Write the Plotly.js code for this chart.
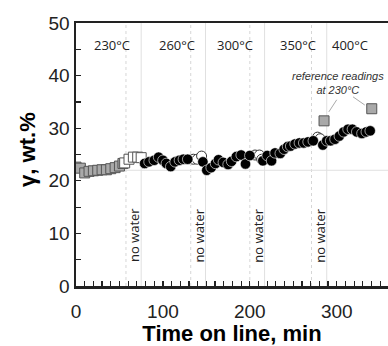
<!DOCTYPE html>
<html>
<head>
<meta charset="utf-8">
<script src="https://cdn.plot.ly/plotly-3.0.1.min.js"></script>
<style>html,body{margin:0;padding:0;background:#fff;}#chart{width:388px;height:346px;}</style>
</head>
<body>
<div id="chart"></div>
<script>
// Grey squares: 230°C with water
const greySqX = [0, 5, 10, 15, 20, 25, 30, 35, 40, 45, 50, 54];
const greySqY = [22.6, 22.4, 21.5, 21.8, 21.9, 22.0, 22.1, 22.1, 22.3, 22.5, 22.8, 23.3];
// Open squares: 230°C no water
const openSqX = [56, 61, 66, 71, 75];
const openSqY = [23.4, 24.1, 24.5, 24.5, 24.4];
// Black circles: with water
const blackX = [79, 84, 90, 95, 100, 104, 109, 114, 119, 123.5, 128.5, 146, 150.5, 155.5, 160.5, 164, 169.5, 175, 179, 184.5, 190, 195, 200, 215, 220, 225, 229, 235, 239.5, 243.5, 247, 252, 257, 262, 267, 273, 284, 288.5, 293, 298, 303, 308, 313, 318, 323, 329, 334, 338.5];
const blackY = [23.3, 23.6, 23.9, 24.5, 23.9, 23.3, 22.7, 23.6, 23.9, 24.1, 24.1, 23.6, 22.0, 22.5, 23.3, 24.0, 23.5, 23.1, 23.7, 24.6, 24.9, 23.2, 24.8, 23.8, 24.8, 23.8, 25.3, 25.2, 26.0, 26.5, 26.6, 27.0, 27.2, 27.2, 27.4, 27.6, 26.8, 27.6, 27.6, 27.9, 28.5, 29.3, 29.8, 29.8, 29.3, 29.0, 29.3, 29.5];
// Open circles: no water
const openCircX = [135, 139.5, 144.5, 206, 211, 213.7, 278, 281];
const openCircY = [24.1, 24.1, 24.7, 24.9, 24.9, 24.1, 28.3, 28.0];
// Reference readings at 230°C
const refX = [285.4, 340.3];
const refY = [31.4, 33.7];
// Temperature labels
const tempLabels = ['230°C', '260°C', '300°C', '350°C', '400°C'];
const tempX = [41.4, 116, 183, 255, 315];
const tempY = 45.8;
// No-water periods
const noWaterStart = [57.5, 132, 200, 271];
const noWaterEnd = [75, 149, 217, 288.5];
const noWaterLabel = 'no water';
const baselineY = 22;
const refNote = 'reference readings<br>at 230°C';
const refNoteX = 302, refNoteY = 38.6;
const refArrowFrom = [[300, 35.4], [318.8, 35.96]];
const yTitle = 'γ, wt.%';
const xTitle = 'Time on line, min';

const traces = [
  {x: greySqX, y: greySqY, mode: 'markers', type: 'scatter',
   marker: {symbol: 'square', size: 10, color: '#a9a9a9', line: {color: '#555', width: 1}}},
  {x: openSqX, y: openSqY, mode: 'markers', type: 'scatter',
   marker: {symbol: 'square', size: 10, color: '#fff', line: {color: '#555', width: 1}}},
  {x: openCircX, y: openCircY, mode: 'markers', type: 'scatter',
   marker: {symbol: 'circle', size: 10, color: '#fff', line: {color: '#333', width: 1}}},
  {x: blackX, y: blackY, mode: 'markers', type: 'scatter',
   marker: {symbol: 'circle', size: 10.5, color: '#000', line: {color: '#fff', width: 0.6}}},
  {x: refX, y: refY, mode: 'markers', type: 'scatter',
   marker: {symbol: 'square', size: 10, color: '#a9a9a9', line: {color: '#555', width: 1}}}
];

const shapes = [];
noWaterStart.forEach(v => shapes.push({type: 'line', xref: 'x', yref: 'paper', x0: v, x1: v, y0: 0, y1: 1, layer: 'below', line: {color: '#d6d6d6', width: 1, dash: 'dot'}}));
noWaterEnd.forEach(v => shapes.push({type: 'line', xref: 'x', yref: 'paper', x0: v, x1: v, y0: 0, y1: 1, layer: 'below', line: {color: '#e0e0e0', width: 1}}));
shapes.push({type: 'line', xref: 'paper', yref: 'y', x0: 0, x1: 1, y0: baselineY, y1: baselineY, layer: 'below', line: {color: '#e0e0e0', width: 1}});
refArrowFrom.forEach((p, i) => shapes.push({type: 'line', xref: 'x', yref: 'y', x0: p[0], y0: p[1], x1: refX[i] + (i === 0 ? 5.5 : -8), y1: refY[i] + (i === 0 ? 1.7 : 0.7), line: {color: '#aaa', width: 1}}));

const annotations = [];
tempLabels.forEach((t, i) => annotations.push({x: tempX[i], y: tempY, xref: 'x', yref: 'y', text: t, showarrow: false, font: {family: 'Open Sans, sans-serif', size: 13, color: '#222'}}));
noWaterStart.forEach((s, i) => annotations.push({x: (s + noWaterEnd[i]) / 2, y: 9.6, xref: 'x', yref: 'y', text: noWaterLabel, textangle: -90, showarrow: false, font: {family: 'Open Sans, sans-serif', size: 13, color: '#222'}}));
annotations.push({x: refNoteX, y: refNoteY, xref: 'x', yref: 'y', text: '<i>' + refNote + '</i>', showarrow: false, align: 'center', font: {family: 'Liberation Sans, Arial, sans-serif', size: 11, color: '#333'}});
annotations.push({x: -0.155, y: 0.52, xref: 'paper', yref: 'paper', xanchor: 'center', yanchor: 'middle', text: '<b>' + yTitle + '</b>', textangle: -90, showarrow: false, font: {family: 'Liberation Sans, Arial, sans-serif', size: 22, color: '#000'}});

const layout = {
  width: 388, height: 346,
  margin: {l: 76, r: 0, t: 23, b: 60, pad: 0},
  paper_bgcolor: '#fff', plot_bgcolor: '#fff',
  showlegend: false,
  hovermode: false,
  font: {family: 'Liberation Sans, Arial, sans-serif', color: '#222'},
  xaxis: {
    range: [0, 359], showgrid: false, zeroline: false,
    showline: true, linecolor: '#222', linewidth: 2.5, mirror: true,
    ticks: 'inside', ticklen: 5, tickwidth: 1.2, tickcolor: '#222',
    tickvals: [0, 100, 200, 300], tickfont: {size: 19, color: '#222'},
    ticklabelstandoff: 7,
    minor: {dtick: 10, tick0: 0, ticks: 'inside', ticklen: 5, tickwidth: 1.2, tickcolor: '#222', showgrid: false},
    title: {text: '<b>' + xTitle + '</b>', font: {size: 22, color: '#000'}, standoff: 5}
  },
  yaxis: {
    range: [0, 50], showgrid: false, zeroline: false,
    showline: true, linecolor: '#222', linewidth: 2.5,
    ticks: 'inside', ticklen: 5, tickwidth: 1.2, tickcolor: '#222',
    tickvals: [0, 10, 20, 30, 40, 50], tickfont: {size: 19, color: '#222'},
    ticksuffix: '\u2002',
    minor: {dtick: 5, tick0: 0, ticks: 'inside', ticklen: 5, tickwidth: 1.2, tickcolor: '#222', showgrid: false}
  },
  shapes: shapes,
  annotations: annotations
};

Plotly.newPlot('chart', traces, layout, {staticPlot: true, displayModeBar: false});
</script>
</body>
</html>
